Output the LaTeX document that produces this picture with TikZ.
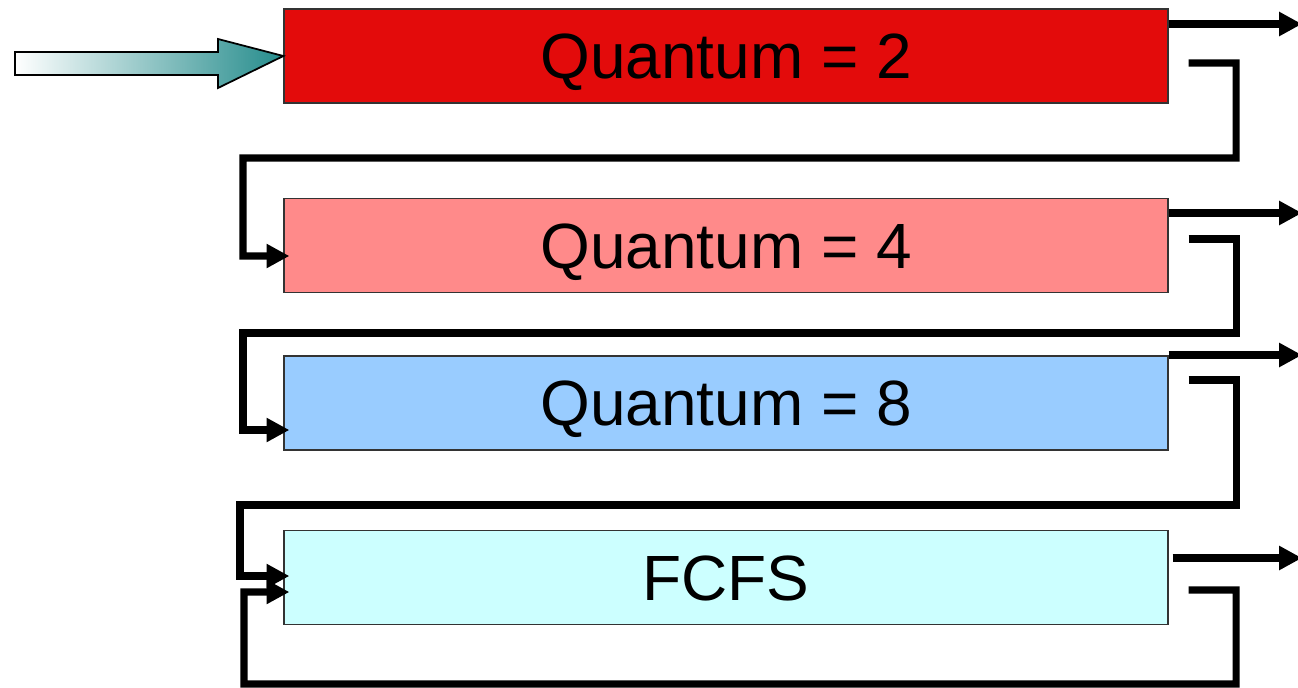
\documentclass[tikz,border=0pt]{standalone}
\usepackage{fontspec}
\setmainfont{Liberation Sans}
\usetikzlibrary{arrows.meta,calc}
\definecolor{rojo}{HTML}{E30B0B}
\definecolor{rosa}{HTML}{FF8A8A}
\definecolor{celeste}{HTML}{99CCFF}
\definecolor{cian}{HTML}{CCFFFF}
\definecolor{verde}{HTML}{258C8C}
\begin{document}
\begin{tikzpicture}[x=0.02cm,y=-0.02cm,
    cola/.style={draw=black!80, line width=0.8pt, minimum width=17.68cm, minimum height=1.88cm, inner sep=0pt, text height=25.8pt, text depth=0pt, font=\fontsize{36.4}{40}\selectfont},
    flujo/.style={line width=4pt, -{Triangle[length=13pt,width=13pt]}}]
    \useasboundingbox (0,0) rectangle (1298,687);

    % Colas
    \node[cola, fill=rojo] (q2) at (726,56) {Quantum = 2};
    \node[cola, fill=rosa] (q4) at (726,245.5) {Quantum = 4};
    \node[cola, fill=celeste] (q8) at (726,403) {Quantum = 8};
    \node[cola, fill=cian] (fcfs) at (726,577.5) {FCFS};

    % Entrada
    \draw[line width=1pt, left color=white, right color=verde] (15,52) -- (218,52) -- (218,39) -- (q2.west) -- (218,88) -- (218,75) -- (15,75) -- cycle;

    % Salidas
    \coordinate (s1) at (1302,24);
    \coordinate (s2) at (1302,213);
    \coordinate (s3) at (1302,355);
    \coordinate (s4) at (1302,558);
    \draw[flujo] (q2.east |- s1) -- (s1);
    \draw[flujo] (q4.east |- s2) -- (s2);
    \draw[flujo] (q8.east |- s3) -- (s3);
    \draw[flujo] ($(fcfs.east |- s4)+(4,0)$) -- (s4);

    % Realimentacion
    \draw[flujo] ($(q2.east)+(20,7)$) -| (1236,158) -| (243,256) -- ($(q4.west)+(6,10.5)$);
    \draw[flujo] ($(q4.east)+(20,-6.5)$) -| (1236,333) -| (243,430) -- ($(q8.west)+(6,27)$);
    \draw[flujo] ($(q8.east)+(20,-23)$) -| (1236,505) -| (240,576) -- ($(fcfs.west)+(6,-1.5)$);
    \draw[flujo] ($(fcfs.east)+(20,12.5)$) -| (1236,684) -| (244,592) -- ($(fcfs.west)+(6,14.5)$);
\end{tikzpicture}
\end{document}
